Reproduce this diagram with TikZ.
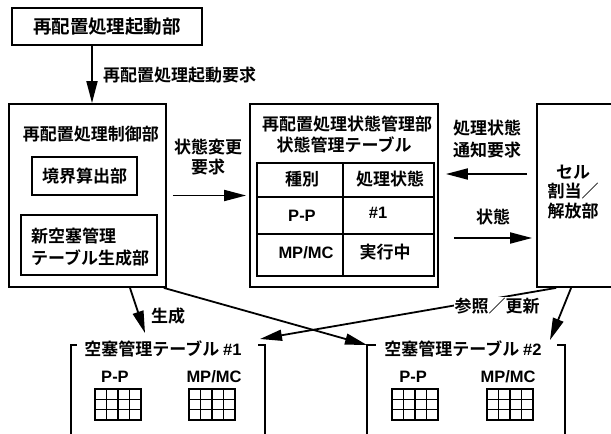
\documentclass[tikz,border=0pt]{standalone}
\usepackage{fontspec}
\newfontfamily\jpfam{Noto Sans CJK JP}[BoldFont={Noto Sans CJK JP Bold}]
\newfontfamily\latfam{Liberation Sans}
\newcommand\jpb{\jpfam\bfseries\fontsize{17}{21}\selectfont}
\newcommand\latb{\latfam\bfseries\fontsize{16.5}{20}\selectfont}
\usetikzlibrary{arrows.meta,calc}
\newcommand\mycellgrid[2]{%
  \draw[gridline] (#1,#2) rectangle ++(46,31);
  \foreach \i in {1,2,3} \draw[gridline] ({#1+11.5*\i},#2) -- ++(0,31);
  \foreach \j in {1,2} \draw[gridline] (#1,{#2+10.333*\j}) -- ++(46,0);
}
\begin{document}
\begin{tikzpicture}[x=1pt,y=-1pt,
  box/.style={draw, line width=1.8pt, inner sep=0pt},
  lbl/.style={font=\jpb, inner sep=0pt},
  lat/.style={font=\latb, inner sep=0pt},
  arr/.style={line width=1.8pt, -{Triangle[length=22pt,width=11pt]}},
  gridline/.style={line width=1.4pt},
  thinline/.style={line width=1.5pt}]
\useasboundingbox (0,0) rectangle (611,434);

% top
\node[box, minimum width=190pt, minimum height=37pt, font=\jpfam\bfseries\fontsize{18.5}{22}\selectfont] (start) at (107,26.5) {再配置処理起動部};
\node[lbl, anchor=west] (req) at (103,75) {再配置処理起動要求};

% control box
\node[box, minimum width=157pt, minimum height=183pt] (ctrl) at (87.5,195.5) {};
\node[lbl] (ctrlt) at (91,134) {再配置処理制御部};
\node[box, minimum width=105pt, minimum height=38pt, font=\jpb] (bnd) at (84.5,176) {境界算出部};
\node[box, minimum width=136pt, minimum height=60pt] (gen) at (89,245) {};
\node[lbl, anchor=west, align=left, font=\jpfam\bfseries\fontsize{17}{22}\selectfont] (gent) at (31,247) {新空塞管理\\テーブル生成部};

% manager box
\node[box, minimum width=188pt, minimum height=183pt] (mgr) at (344,195.5) {};
\node[lbl] (mgrt1) at (347,124) {再配置処理状態管理部};
\node[lbl] (mgrt2) at (344,145) {状態管理テーブル};
\node[draw, thinline, inner sep=0pt, minimum width=177pt, minimum height=113pt] (tbl) at (345.5,219.5) {};
\draw[thinline] (343,163) -- (343,276);
\draw[thinline] (257,197) -- (434,197);
\draw[thinline] (257,234) -- (434,234);
\node[lbl] (c11) at (302,179) {種別};
\node[lbl] (c12) at (390,179) {処理状態};
\node[lat] (c21) at (302,216) {P-P};
\node[lat] (c22) at (378,213) {\#1};
\node[lat] (c31) at (306,253) {MP/MC};
\node[lbl] (c32) at (385,252) {実行中};

% cell box
\node[box, minimum width=110pt, minimum height=183pt] (cell) at (592,195.5) {};
\node[lbl, align=center, font=\jpfam\bfseries\fontsize{17}{19.5}\selectfont] (cellt) at (573,192) {セル\\割当／\\解放部};

% labels
\node[lbl, align=center, font=\jpfam\bfseries\fontsize{17}{20}\selectfont] (chgl) at (208,157) {状態変更\\要求};
\node[lbl, align=center, font=\jpfam\bfseries\fontsize{17}{22}\selectfont] (notl) at (487,139) {処理状態\\通知要求};
\node[lbl] (statl) at (493,217) {状態};
\node[lbl] (genl) at (168,316) {生成};

% bottom tables
\node[lbl] (t1) at (163,349) {空塞管理テーブル {\latb\#1}};
\node[lbl] (t2) at (463,349) {空塞管理テーブル {\latb\#2}};
\draw[thinline] (71,436) -- (71,345) -- (77,345);
\draw[thinline] (258,345) -- (265,345) -- (265,436);
\draw[thinline] (367,436) -- (367,345) -- (376,345);
\draw[thinline] (557,345) -- (565,345) -- (565,436);
\node[lat] (p1) at (115,377) {P-P};
\node[lat] (m1) at (214,377) {MP/MC};
\node[lat] (p2) at (413,377) {P-P};
\node[lat] (m2) at (508,377) {MP/MC};
\mycellgrid{95}{389}
\mycellgrid{189}{389}
\mycellgrid{392}{389}
\mycellgrid{487}{389}

% arrows
\draw[arr] ([xshift=-15pt]start.south) -- ([xshift=4.5pt]ctrl.north);
\draw[arr] ($(ctrl.east)+(6,0)$) -- ($(mgr.west)+(-3,0)$);
\draw[arr] ($(cell.west)+(-9,-21.5)$) -- ($(mgr.east)+(7,-21.5)$);
\draw[arr] ($(mgr.east)+(15,42.5)$) -- ($(cell.west)+(-4,42.5)$);
\draw[arr] ($(ctrl.south)+(42.5,0)$) -- ($(t1.center)+(-18,-16)$);
\draw[arr] ($(ctrl.south east)+(-3,0)$) -- ($(t2.center)+(-96,-4)$);
\draw[arr] ($(cell.south west)+(20,0)$) -- ($(t1.center)+(97,-10)$);
\node[lbl, fill=white, inner sep=1pt] (refl) at (497,306) {参照／更新};
\draw[arr] ($(cell.south west)+(35,0)$) -- ($(t2.center)+(87,-9)$);
\end{tikzpicture}
\end{document}
